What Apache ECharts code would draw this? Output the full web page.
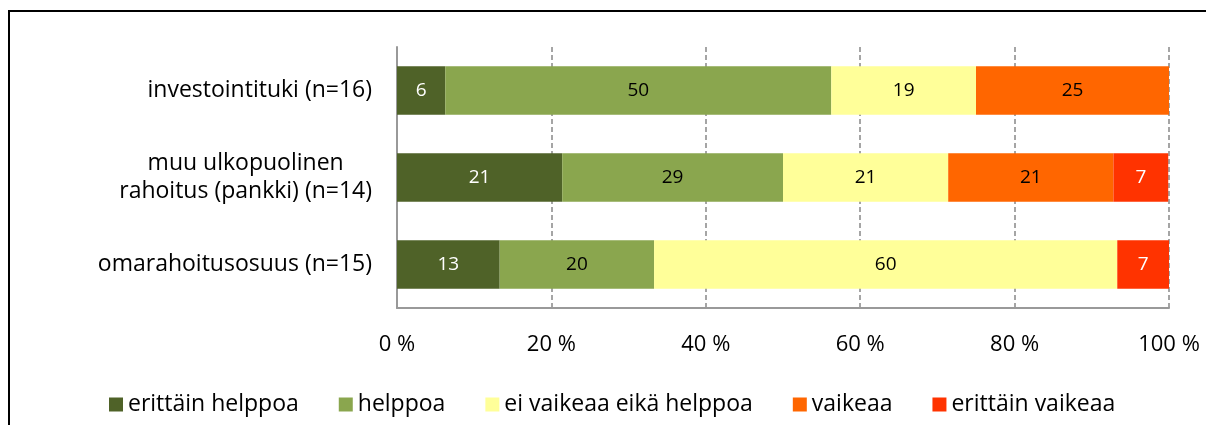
<!DOCTYPE html>
<html>
<head>
<meta charset="utf-8">
<script src="https://cdn.jsdelivr.net/npm/echarts@6/dist/echarts.min.js"></script>
<style>
  html, body { margin: 0; padding: 0; background: #fff; }
  #chart { width: 1206px; height: 425px; }
</style>
</head>
<body>
<div id="chart"></div>
<script>
const categories = ['investointituki (n=16)', 'muu ulkopuolinen\nrahoitus (pankki) (n=14)', 'omarahoitusosuus (n=15)']
const seriesNames = ['erittäin helppoa', 'helppoa', 'ei vaikeaa eikä helppoa', 'vaikeaa', 'erittäin vaikeaa']
const erittainHelppoa = [6.25, 21.4, 13.3]
const helppoa = [50, 28.6, 20]
const eiVaikeaaEikaHelppoa = [18.75, 21.4, 60]
const vaikeaa = [25, 21.4, null]
const erittainVaikeaa = [null, 7.1, 6.7]
const colors = ['#4F6228', '#8AA64E', '#FFFF99', '#FF6600', '#FF3300']
const labelColors = ['#fff', '#000', '#000', '#000', '#fff']

const font = '"Open Sans", "Noto Sans", sans-serif'
const chart = echarts.init(document.getElementById('chart'))
const values = [erittainHelppoa, helppoa, eiVaikeaaEikaHelppoa, vaikeaa, erittainVaikeaa]

chart.setOption({
    animation: false,
    textStyle: { fontFamily: font },
    graphic: [
        {
            type: 'polyline',
            shape: { points: [[9, 425], [9, 11], [1206, 11]] },
            style: { stroke: '#000', lineWidth: 2, fill: null }
        }
    ],
    grid: { left: 397, right: 37, top: 47, height: 261 },
    xAxis: {
        type: 'value',
        min: 0,
        max: 100,
        interval: 20,
        axisLabel: { formatter: '{value} %', color: '#000', fontSize: 22, margin: 26 },
        axisLine: { show: true, lineStyle: { color: '#999', width: 2 } },
        axisTick: { show: false },
        splitLine: { show: true, lineStyle: { color: '#888', type: [5, 3], width: 1.5 } }
    },
    yAxis: {
        type: 'category',
        inverse: true,
        data: categories,
        axisLabel: {
            color: '#000',
            fontSize: 23,
            margin: 25,
            lineHeight: 28,
            align: 'right',
            // rivit keskitetään toistensa suhteen kuten Excelissä
            formatter: v => v.split('\n').map(s => '{c|' + s + '}').join('\n'),
            rich: { c: { align: 'center', fontSize: 23, lineHeight: 28, color: '#000', fontFamily: font } }
        },
        axisLine: { show: true, lineStyle: { color: '#999', width: 2 } },
        axisTick: { show: false }
    },
    legend: {
        top: 388,
        left: 104,
        itemWidth: 14,
        itemHeight: 14,
        itemGap: 40,
        icon: 'rect',
        textStyle: { color: '#000', fontSize: 23, fontFamily: font },
        data: seriesNames
    },
    series: seriesNames.map((name, i) => ({
        name,
        type: 'bar',
        stack: 'total',
        barWidth: '56%',
        data: values[i],
        itemStyle: { color: colors[i] },
        label: {
            show: true,
            position: 'inside',
            color: labelColors[i],
            fontSize: 19,
            fontFamily: font,
            formatter: p => Math.round(p.value)
        }
    }))
})
</script>
</body>
</html>
